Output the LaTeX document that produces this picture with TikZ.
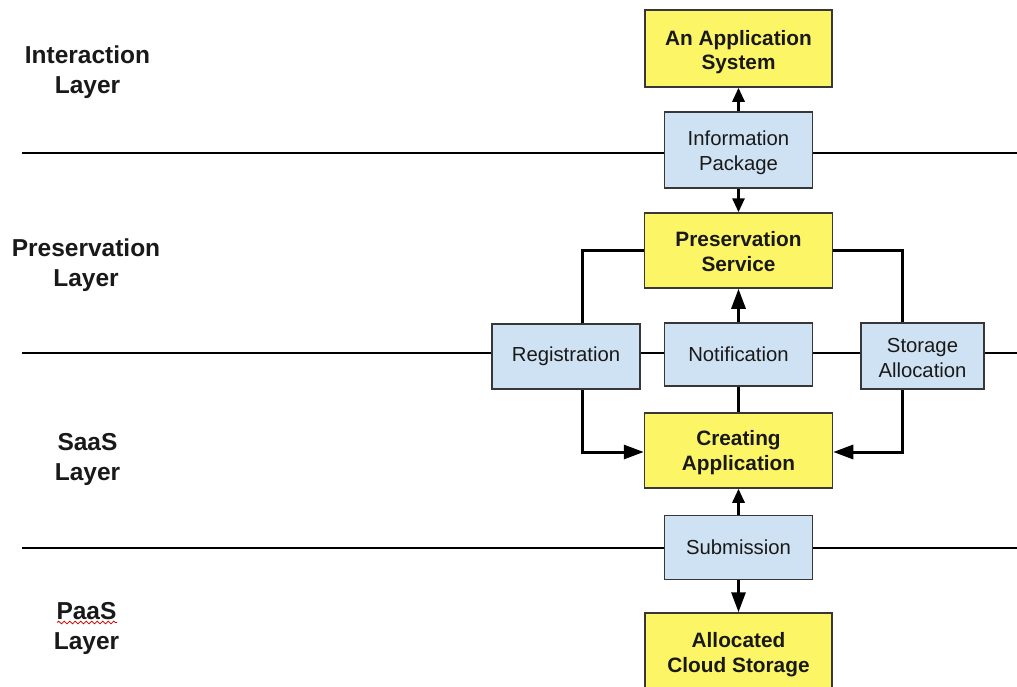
\documentclass[tikz,border=0pt]{standalone}
\usepackage{fontspec}
\setmainfont{Liberation Sans}
\usetikzlibrary{arrows.meta,decorations.pathmorphing}
\definecolor{boxyellow}{RGB}{252,245,102}
\definecolor{boxblue}{RGB}{207,226,243}
\definecolor{boxedge}{RGB}{55,55,55}
\definecolor{inktext}{RGB}{25,25,25}
% invisible strut on a first line: a taller first line sets the text lower in its box
\newcommand\textlift[1]{\rule{0pt}{#1pt}}
\begin{document}
\begin{tikzpicture}[x=1pt,y=-1pt,
  cbox/.style={draw=boxedge,line width=1.5pt,align=center,inner sep=0pt,text=inktext},
  ybox/.style={cbox,fill=boxyellow,font=\bfseries\fontsize{20.8}{24.5}\selectfont},
  bbox/.style={cbox,fill=boxblue,font=\fontsize{20.3}{24.5}\selectfont},
  layerline/.style={line width=1.4pt,black},
  link/.style={line width=3pt,black},
  arrshort/.style={link,-{Triangle[length=14pt,width=12pt]}},
  arrlong/.style={link,-{Triangle[length=20pt,width=14pt]}},
  lbl/.style={align=center,inner sep=0pt,text=inktext,font=\bfseries\fontsize{24.5}{30}\selectfont}]
\useasboundingbox (0,0) rectangle (1017,686);
\clip (0,0) rectangle (1017,686);
\fill[white] (0,0) rectangle (1017,686);

% layer boundaries
\draw[layerline] (22,153) -- (1017,153);
\draw[layerline] (22,353) -- (1017,353);
\draw[layerline] (22,548) -- (1017,548);

% layer names
\node[lbl] (lint)  at (87.5,72)  {Interaction\\Layer};
\node[lbl] (lpres) at (86,265.5) {Preservation\\Layer};
\node[lbl] (lsaas) at (87.5,459) {SaaS\\Layer};
\node[lbl] (lpaas) at (86.5,628) {PaaS\\Layer};
\draw[red!80!black,line width=0.8pt,decorate,decoration={snake,amplitude=1.3pt,segment length=5.5pt}]
  (57,622.5) -- (117,622.5);

% central column
\node[ybox,minimum width=187,minimum height=77] (app)   at (738.5,48.5) {\textlift{22}An Application\\System};
\node[bbox,minimum width=148,minimum height=76] (info)  at (738.5,150)  {\textlift{20}Information\\Package};
\node[ybox,minimum width=188,minimum height=75] (pres)  at (738.5,250.5) {\textlift{17}Preservation\\Service};
\node[bbox,minimum width=148,minimum height=63] (notif) at (738.5,354.5) {Notification};
\node[ybox,minimum width=188,minimum height=75] (create) at (738.5,450.5) {\textlift{19}Creating\\Application};
\node[bbox,minimum width=148,minimum height=64] (sub)   at (738.5,547.5)  {Submission};
\node[ybox,minimum width=187,minimum height=78] (cloud) at (738.5,652)  {\textlift{20}Allocated\\Cloud Storage};

% side services
\node[bbox,minimum width=148,minimum height=65] (reg)   at (566,356.5)   {Registration};
\node[bbox,minimum width=123,minimum height=66] (store) at (922.5,356)   {\textlift{18}Storage\\Allocation};

% connectors
\draw[arrshort] (info) -- (app);
\draw[arrshort] (info) -- (pres);
\draw[arrlong] (notif) -- (pres);
\draw[link] (notif) -- (create);
\draw[arrshort] (sub) -- (create);
\draw[arrlong] (sub) -- (cloud);

\draw[link] ([xshift=16pt]reg.north) |- (pres.west);
\draw[arrlong]  ([xshift=16pt]reg.south) |- ([yshift=-1.5pt]create.west);
\draw[link] ([xshift=-20.5pt]store.north) |- (pres.east);
\draw[arrlong]  ([xshift=-20.5pt]store.south) |- ([yshift=-1.5pt]create.east);
\end{tikzpicture}
\end{document}
